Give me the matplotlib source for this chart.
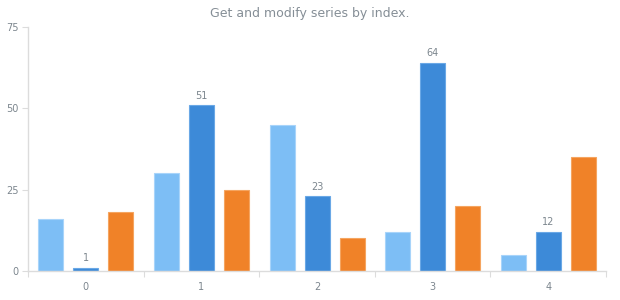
import matplotlib
matplotlib.use("Agg")
import matplotlib.pyplot as plt
import numpy as np

categories = ["0", "1", "2", "3", "4"]
series1 = [16, 30, 45, 12, 5]
series2 = [1, 51, 23, 64, 12]
series3 = [18, 25, 10, 20, 35]
y_ticks = [0, 25, 50, 75]

colors = ["#7dbef5", "#3d8ad8", "#f08228"]
edges = ["#a8d4fa", "#6aa8e6", "#f5a560"]
text_c = "#7c868e"
axis_c = "#dcdcdc"

fig = plt.figure(figsize=(6.2, 3.0), dpi=100)
ax = fig.add_axes([28/620, 29/300, 578/620, 244/300])

x = np.arange(len(categories))
w = 25/115.6
gap = 10/115.6
offsets = [-(w + gap), 0, (w + gap)]
for s, (vals, c, e, off) in enumerate(zip([series1, series2, series3], colors, edges, offsets)):
    bars = ax.bar(x + off, vals, width=w, color=c, edgecolor=e, linewidth=0.8)
    if s == 1:
        for xi, v in zip(x + off, vals):
            ax.text(xi, v + 1.4, str(v), ha="center", va="bottom", fontsize=7, color=text_c)

ax.set_xlim(-0.5, len(categories) - 0.5)
ax.set_ylim(0, 75)
ax.set_yticks(y_ticks)
ax.set_yticklabels([str(t) for t in y_ticks])
ax.set_xticks(np.arange(len(categories) + 1) - 0.5)
ax.set_xticklabels([])
ax.set_xticks(x, minor=True)
ax.set_xticklabels(categories, minor=True)
ax.tick_params(axis="x", which="major", length=4, color=axis_c, direction="out")
ax.tick_params(axis="x", which="minor", length=0, pad=8, labelsize=7, labelcolor=text_c)
ax.tick_params(axis="y", length=4, color=axis_c, labelsize=7, labelcolor=text_c, pad=3)

for sp in ["top", "right"]:
    ax.spines[sp].set_visible(False)
for sp in ["left", "bottom"]:
    ax.spines[sp].set_color(axis_c)
    ax.spines[sp].set_linewidth(1.0)

fig.text(0.5, 1 - 13/300, "Get and modify series by index.", ha="center", va="center",
         fontsize=9, color="#858e96")

fig.savefig("out.png", dpi=100)
